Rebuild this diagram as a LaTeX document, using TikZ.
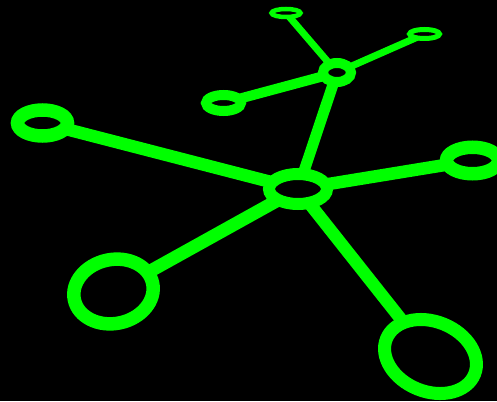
\documentclass[tikz,border=0pt]{standalone}
\usetikzlibrary{shapes.geometric}
\definecolor{ng}{RGB}{0,255,0}
\pgfdeclarelayer{bg}
\pgfsetlayers{bg,main}
\begin{document}
\begin{tikzpicture}[x=1pt,y=-1pt,
  ring/.style={ellipse, draw=ng, fill=black, inner sep=0pt, outer sep=0pt},
  link/.style={draw=ng, line cap=butt}]
\useasboundingbox (0,0) rectangle (497,401);
% rings
\node[ring, line width=12pt, minimum width=58pt, minimum height=30pt] (c) at (298,189) {};
\node[ring, line width=10pt, minimum width=28pt, minimum height=19pt] (m) at (337,72.5) {};
\node[ring, line width=4.5pt, minimum width=29pt, minimum height=8pt] (t) at (286,13) {};
\node[ring, line width=5pt, minimum width=30pt, minimum height=9pt] (tr) at (424.5,34) {};
\node[ring, line width=10pt, minimum width=35pt, minimum height=16pt] (lm) at (223.5,103) {};
\node[ring, line width=13.5pt, minimum width=50pt, minimum height=26pt] (l) at (42.5,123) {};
\node[ring, line width=13.5pt, minimum width=52pt, minimum height=26.5pt] (r) at (472.5,160.5) {};
\node[ring, line width=13.5pt, minimum width=80pt, minimum height=64pt, rotate=12] (bl) at (113.5,291.5) {};
\node[ring, line width=13pt, minimum width=95pt, minimum height=70pt, rotate=-22] (br) at (430.5,356.5) {};
% connectors
\begin{pgfonlayer}{bg}
\fill[black] (0,0) rectangle (497,401);
\draw[link, line width=12.5pt] (c.center) -- (l.center);
\draw[link, line width=12.5pt] (c.center) -- (r.center);
\draw[link, line width=13pt] (c.center) -- (bl.center);
\draw[link, line width=12.5pt] (c.center) -- (br.center);
\draw[link, line width=11pt] (c.center) -- (m.center);
\draw[link, line width=10pt] (m.center) -- (lm.center);
\draw[link, line width=7pt] (m.center) -- (t.center);
\draw[link, line width=7pt] (m.center) -- (tr.center);
\end{pgfonlayer}
\end{tikzpicture}
\end{document}
